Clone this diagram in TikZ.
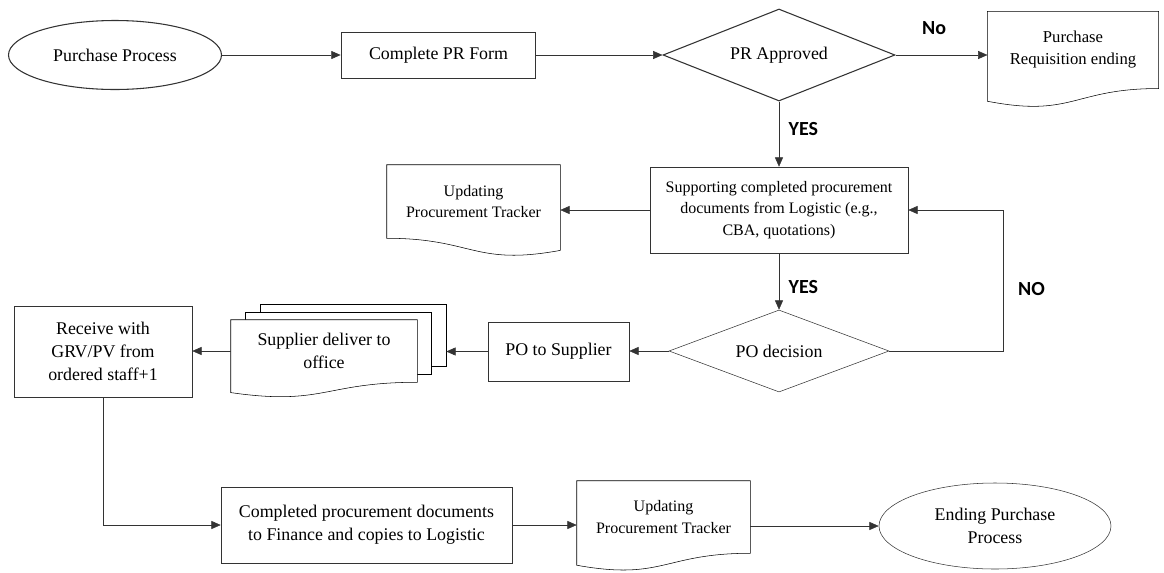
\documentclass[tikz,border=0pt]{standalone}
\usepackage{fontspec}
\setmainfont{Liberation Serif}
\newfontfamily\lblfont{Carlito}
\usetikzlibrary{shapes.geometric,arrows.meta,calc,positioning}

\pgfdeclarelayer{back}
\pgfdeclarelayer{paper}
\pgfsetlayers{back,paper,main}

\newcommand{\docshape}[1]{%
  \begin{pgfonlayer}{paper}
  \draw[docline] let \p1=($(#1.north)-(#1.south)$) in
    (#1.north west) -- (#1.north east) -- (#1.south east)
    .. controls (#1.south) and ($(#1.south)+(0,-0.38*\y1)$) ..
    ($(#1.south west)+(0,-0.165*\y1)$) -- cycle;
  \end{pgfonlayer}}
\newcommand{\docshapeflip}[1]{%
  \begin{pgfonlayer}{paper}
  \draw[docline] let \p1=($(#1.north)-(#1.south)$) in
    (#1.north west) -- (#1.north east) -- ($(#1.south east)+(0,-0.165*\y1)$)
    .. controls ($(#1.south)+(0,-0.38*\y1)$) and (#1.south) ..
    (#1.south west) -- cycle;
  \end{pgfonlayer}}

\begin{document}
\begin{tikzpicture}[x=0.75pt, y=-0.75pt,
    font=\fontsize{13.4}{17.5}\selectfont,
    line width=0.8pt, draw=black!80,
    box/.style={rectangle, draw, fill=white, inner sep=0, align=center},
    oval/.style={ellipse, draw, fill=white, inner sep=0, align=center},
    decide/.style={diamond, draw, fill=white, inner sep=0, align=center, aspect=2.6},
    docnode/.style={rectangle, inner sep=0, align=center},
    layer/.style={rectangle, draw, fill=white, minimum width=139.5pt, minimum height=46.5pt},
    docline/.style={draw, fill=white},
    small/.style={font=\fontsize{12}{16}\selectfont},
    lbl/.style={font=\lblfont\bfseries\fontsize{15}{18}\selectfont, inner sep=0},
    arr/.style={-{Triangle[length=7pt,width=6pt]}}]
    \useasboundingbox (0,0) rectangle (1164,572);

    \node[oval, minimum width=159.75pt, minimum height=51.75pt] (start) at (115,55) {Purchase Process};
    \node[box, minimum width=146pt, minimum height=34pt] (prform) at (438.5,55.5) {\raisebox{-4pt}{Complete PR Form}};
    \node[decide, minimum width=174pt, minimum height=69pt] (prok) at (779,55) {PR Approved};
    \node[docnode, minimum width=127.5pt, minimum height=57pt, font=\fontsize{12.5}{16.5}\selectfont] (prend) at (1073,50) {Purchase\\Requisition ending};
    \docshape{prend}

    \node[box, small, minimum width=193.5pt, minimum height=64.5pt] (supp) at (779,210) {Supporting completed procurement\\documents from Logistic (e.g.,\\CBA, quotations)};
    \node[docnode, small, minimum width=129.75pt, minimum height=54.75pt] (trk1) at (473.5,201.5) {Updating\\Procurement Tracker};
    \docshapeflip{trk1}

    \node[decide, minimum width=165pt, minimum height=61.5pt] (pod) at (779,351) {PO decision};
    \node[box, minimum width=105.75pt, minimum height=44.25pt] (po) at (558.5,351.5) {PO to Supplier};
    \begin{pgfonlayer}{back}
        \node[layer] (ship3) at (353,335) {};
        \node[layer] (ship2) at (338.5,343) {};
    \end{pgfonlayer}
    \node[docnode, minimum width=139.5pt, minimum height=46.5pt] (ship) at (324,351) {Supplier deliver to\\office};
    \docshape{ship}
    \node[box, minimum width=133.5pt, minimum height=68.25pt] (recv) at (103,351.5) {Receive with\\GRV/PV from\\ordered staff+1};

    \node[box, minimum width=218.25pt, minimum height=57pt] (done) at (366.5,525) {Completed procurement documents\\to Finance and copies to Logistic};
    \node[docnode, small, minimum width=129.75pt, minimum height=54pt] (trk2) at (663.5,517) {Updating\\Procurement Tracker};
    \docshape{trk2}
    \node[oval, minimum width=174pt, minimum height=64.5pt] (endp) at (995,526) {Ending Purchase\\Process};

    \draw[arr] (start) -- (start -| prform.west);
    \draw[arr] (prform.east |- prok.west) -- (prok.west);
    \draw[arr] (prok.east) -- node[lbl, pos=0.42, above=15pt] (lno) {No} (prok.east -| prend.west);
    \draw[arr] (prok.south) -- node[lbl, pos=0.42, right=7pt] (lyes) {YES} (supp.north);
    \draw[arr] (supp.west) -- (supp.west -| trk1.east);
    \draw[arr] (supp.south) -- node[lbl, pos=0.6, right=7pt] (lyes2) {YES} (pod.north);
    \draw[arr] (pod.east) -- ++(114,0) |- node[lbl, pos=0.22, right=11pt] (lnoloop) {NO} (supp.east);
    \draw[arr] (pod.west) -- (pod.west -| po.east);
    \draw[arr] (po.west) -- (po.west -| ship3.east);
    \draw[arr] (ship.west) -- (ship.west -| recv.east);
    \draw[arr] (recv.south) |- (done.west);
    \draw[arr] (done.east) -- (done.east -| trk2.west);
    \draw[arr] (endp.west -| trk2.east) -- (endp.west);
\end{tikzpicture}
\end{document}
